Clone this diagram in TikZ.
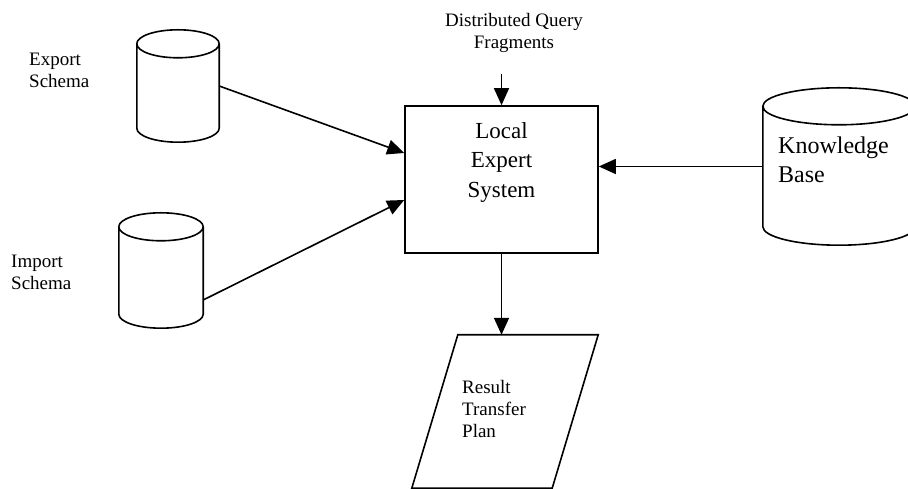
\documentclass[tikz,border=0pt]{standalone}
\usepackage{fontspec}
\setmainfont{Liberation Serif}
\usetikzlibrary{arrows.meta,calc}
\newcommand\drawcyl[2]{%
  \draw[cylline] let \p1=(#1.north west), \p2=(#1.south east), \n1={(\x2-\x1)/2} in
    (\x1,\y1-#2) -- (\x1,\y2+#2)
    arc[start angle=180, end angle=360, x radius=\n1, y radius=#2] -- (\x2,\y1-#2)
    ({\x1+\n1},\y1-#2) ellipse[x radius=\n1, y radius=#2];}
\tikzset{
  cylline/.style={line width=1.6pt, fill=white},
  cylbox/.style={draw=none, inner sep=0, minimum width=#1},
  boxnode/.style={draw, line width=1.6pt, inner sep=0},
  arr/.style={line width=1.6pt, -{Triangle[length=17pt,width=15pt]}},
  small/.style={inner sep=0, font=\fontsize{19}{22}\selectfont},
  big/.style={inner sep=0, font=\fontsize{23}{29.5}\selectfont},
}
\begin{document}
\begin{tikzpicture}[x=1pt,y=1pt]
\useasboundingbox (0,0) rectangle (908,489);
\clip (0,0) rectangle (908,489);
\fill[white] (0,0) rectangle (908,489);
% cylinders
\node[cylbox=82pt, minimum height=112pt] (export) at (178,403) {};
\drawcyl{export}{14pt}
\node[cylbox=84pt, minimum height=115pt] (import) at (161,218.5) {};
\drawcyl{import}{14pt}
\node[cylbox=152pt, minimum height=157pt] (kb) at (839,322.5) {};
\drawcyl{kb}{18.5pt}
% box
\node[boxnode, minimum width=193pt, minimum height=147pt] (les) at (501.5,309.5) {};
\node[big, align=center, anchor=north] (lest) at (501.5,367) {Local\\Expert\\System};
% result plan
\node[inner sep=0, minimum width=186pt, minimum height=153pt] (plan) at (505,77.5) {};
\draw[line width=1.6pt] ($(plan.north west)+(46,0)$) -- (plan.north east)
  -- ($(plan.south east)+(-46,0)$) -- (plan.south west) -- cycle;
\node[small, align=left, anchor=north west] (planl) at (462,109) {Result\\Transfer\\Plan};
% labels
\node[small, align=left, anchor=north west] (exportl) at (29,436) {Export\\Schema};
\node[small, align=left, anchor=north west] (importl) at (11,234) {Import\\Schema};
\node[small, align=center, anchor=north] (dqf) at (514,476) {Distributed Query\\Fragments};
\node[inner sep=0, align=left, anchor=north west, font=\fontsize{24}{29}\selectfont] (kbl) at (778,352.5) {Knowledge\\Base};
% connectors
\draw[arr] (export.east) -- ([yshift=26.5pt]les.west);
\draw[arr] ([yshift=-29.5pt]import.east) -- ([yshift=-20.5pt]les.west);
\draw[arr] (kb.west) -- (kb.west -| les.east);
\path (les.north) ++(0,31) coordinate (qin);
\draw[arr] (qin) -- (les.north);
\draw[arr] (les.south) -- (les.south |- plan.north);
\end{tikzpicture}
\end{document}
